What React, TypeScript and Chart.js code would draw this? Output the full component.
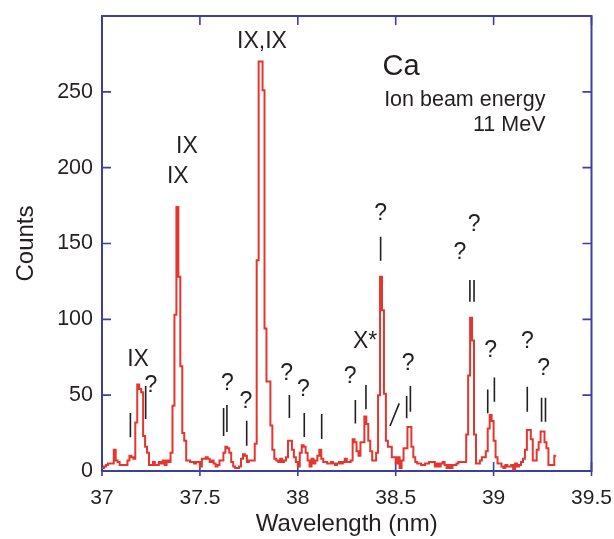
import { useEffect, useRef } from 'react';
import { Chart, registerables } from 'chart.js';

Chart.register(...registerables);

// Spectrum: histogram bins of 0.01 nm starting at 37.00 nm
const START_NM = 37.0;
const BIN_NM = 0.01;
const counts = [
  2, 3, 4, 5, 5, 5, 14, 7, 6, 4,
  4, 4, 4, 7, 10, 9, 8, 32, 57, 54,
  52, 23, 16, 12, 4, 4, 6, 4, 4, 6,
  5, 7, 4, 7, 6, 12, 43, 103, 174, 128,
  69, 25, 20, 7, 7, 6, 6, 5, 6, 6,
  3, 8, 8, 9, 8, 6, 7, 5, 3, 4,
  7, 7, 12, 16, 15, 12, 6, 3, 2, 2,
  3, 8, 11, 10, 6, 7, 7, 7, 18, 139,
  270, 270, 251, 94, 59, 59, 30, 14, 8, 7,
  6, 8, 6, 7, 9, 20, 20, 14, 9, 6,
  3, 12, 17, 16, 12, 7, 3, 8, 5, 7,
  10, 14, 8, 6, 6, 5, 5, 6, 5, 4,
  5, 6, 5, 6, 8, 6, 6, 7, 21, 19,
  13, 10, 19, 19, 36, 31, 20, 13, 7, 7,
  12, 50, 128, 106, 51, 20, 16, 16, 9, 9,
  5, 9, 2, 7, 15, 15, 29, 29, 16, 9,
  6, 5, 5, 4, 4, 5, 5, 6, 6, 6,
  3, 5, 3, 5, 6, 4, 2, 4, 2, 4,
  4, 5, 6, 6, 6, 6, 24, 63, 101, 86,
  24, 5, 5, 7, 9, 9, 13, 28, 37, 33,
  20, 9, 5, 5, 3, 2, 4, 3, 3, 4,
  1, 5, 3, 4, 6, 8, 14, 27, 27, 21,
  7, 7, 14, 19, 26, 26, 19, 15, 4, 4,
  4, 10,
];

const xTicks = [37, 37.5, 38, 38.5, 39, 39.5];
const yTicks = [0, 50, 100, 150, 200, 250];

// Line identification labels: [text, wavelength, counts]
const lineLabels: [string, number, number][] = [
  ['IX,IX', 37.817, 282.9],
  ['IX', 37.434, 213.7],
  ['IX', 37.387, 193.9],
  ['IX', 37.184, 73.3],
  ['?', 37.25, 56],
  ['?', 37.64, 57.8],
  ['?', 37.735, 45.7],
  ['?', 37.943, 63.9],
  ['?', 38.028, 53.4],
  ['?', 38.267, 62.1],
  ['X*', 38.344, 85.2],
  ['?', 38.423, 169.8],
  ['?', 38.564, 71],
  ['?', 38.828, 144.1],
  ['?', 38.901, 162.1],
  ['?', 38.985, 79.3],
  ['?', 39.172, 85.2],
  ['?', 39.256, 67.7],
];

// Marker strokes: [x1, y1, x2, y2] in data units
const markers: [number, number, number, number][] = [
  [37.145, 22.2, 37.145, 38.2],
  [37.223, 34.3, 37.223, 56.0],
  [37.621, 23.1, 37.621, 41.5],
  [37.638, 25.7, 37.638, 43.5],
  [37.739, 16.7, 37.739, 33.1],
  [37.957, 34.9, 37.957, 50.1],
  [38.033, 22.4, 38.033, 38.2],
  [38.122, 21.1, 38.122, 37.6],
  [38.294, 31.4, 38.294, 46.8],
  [38.348, 40.7, 38.348, 56.7],
  [38.423, 138.6, 38.423, 154.4],
  [38.471, 29.7, 38.518, 44.6],
  [38.556, 34.7, 38.556, 49.4],
  [38.575, 39.1, 38.575, 56.0],
  [38.879, 111.6, 38.879, 125.9],
  [38.9, 111.6, 38.9, 125.9],
  [38.97, 38.0, 38.97, 53.8],
  [39.004, 45.7, 39.004, 61.7],
  [39.172, 39.1, 39.172, 55.6],
  [39.245, 32.5, 39.245, 48.3],
  [39.265, 32.5, 39.265, 48.3],
];

const elementLabel = 'Ca';
const elementPos: [number, number] = [38.527, 266.4];
const beamLines = ['Ion beam energy', '11 MeV'];
const beamPos: [number, number][] = [
  [39.265, 244.5],
  [39.265, 228.0],
];

const FONT = '"Liberation Sans", Arial, Helvetica, sans-serif';
const AXIS_COLOR = '#3b3fa0';
const LINE_COLOR = '#e3362e';
const TEXT_COLOR = '#231f20';

const framePlugin = {
  id: 'frameTicks',
  beforeDatasetsDraw(chart: any) {
    const { ctx, chartArea, scales } = chart;
    const { left, right, top, bottom } = chartArea;
    const xs = scales.x;
    const ys = scales.y;
    ctx.save();
    ctx.strokeStyle = AXIS_COLOR;
    ctx.lineWidth = 2;
    ctx.strokeRect(left, top, right - left, bottom - top);
    ctx.lineWidth = 1.6;
    ctx.beginPath();
    xTicks.forEach((v) => {
      const px = xs.getPixelForValue(v);
      ctx.moveTo(px, bottom + 5);
      ctx.lineTo(px, bottom - 9);
      ctx.moveTo(px, top);
      ctx.lineTo(px, top + 9);
    });
    yTicks.forEach((v) => {
      const py = ys.getPixelForValue(v);
      ctx.moveTo(left, py);
      ctx.lineTo(left + 9, py);
      ctx.moveTo(right - 9, py);
      ctx.lineTo(right, py);
    });
    ctx.stroke();
    ctx.restore();
  },
  afterDatasetsDraw(chart: any) {
    const { ctx, scales } = chart;
    const xs = scales.x;
    const ys = scales.y;
    ctx.save();
    ctx.fillStyle = TEXT_COLOR;
    ctx.textBaseline = 'middle';
    ctx.textAlign = 'center';
    ctx.font = `23px ${FONT}`;
    lineLabels.forEach(([t, x, y]) => {
      ctx.fillText(t, xs.getPixelForValue(x), ys.getPixelForValue(y));
    });
    ctx.strokeStyle = TEXT_COLOR;
    ctx.lineWidth = 1.6;
    ctx.beginPath();
    markers.forEach(([x1, y1, x2, y2]) => {
      ctx.moveTo(xs.getPixelForValue(x1), ys.getPixelForValue(y1));
      ctx.lineTo(xs.getPixelForValue(x2), ys.getPixelForValue(y2));
    });
    ctx.stroke();
    ctx.font = `29px ${FONT}`;
    ctx.fillText(elementLabel, xs.getPixelForValue(elementPos[0]), ys.getPixelForValue(elementPos[1]));
    ctx.font = `21.5px ${FONT}`;
    ctx.textAlign = 'right';
    beamLines.forEach((t, i) => {
      const [x, y] = beamPos[i];
      ctx.fillText(t, xs.getPixelForValue(x), ys.getPixelForValue(y));
    });
    ctx.restore();
  },
};

export default function App() {
  const canvasRef = useRef<HTMLCanvasElement | null>(null);

  useEffect(() => {
    const canvas = canvasRef.current;
    if (!canvas) return;
    const points = counts.map((c, i) => ({ x: +(START_NM + i * BIN_NM).toFixed(2), y: c }));
    points.push({ x: +(START_NM + counts.length * BIN_NM).toFixed(2), y: counts[counts.length - 1] });

    const chart = new Chart(canvas, {
      type: 'line',
      data: {
        datasets: [
          {
            data: points,
            borderColor: LINE_COLOR,
            borderWidth: 2,
            stepped: 'before',
            pointRadius: 0,
            fill: false,
          },
        ],
      },
      options: {
        animation: false,
        responsive: false,
        devicePixelRatio: 1,
        layout: { padding: { left: 0, right: 22.5, top: 16, bottom: 0 } },
        plugins: {
          legend: { display: false },
          tooltip: { enabled: false },
        },
        scales: {
          x: {
            type: 'linear',
            min: 37,
            max: 39.5,
            grid: { display: false, drawTicks: false },
            border: { display: false },
            ticks: {
              stepSize: 0.5,
              padding: 15,
              color: TEXT_COLOR,
              font: { family: FONT, size: 21 },
              callback: (v: any) => String(+(+v).toFixed(1)),
            },
            title: {
              display: true,
              text: 'Wavelength (nm)',
              color: TEXT_COLOR,
              font: { family: FONT, size: 24 },
              padding: 0,
            },
            afterFit: (s: any) => {
              s.height = 68;
              s.paddingLeft = 0;
              s.paddingRight = 0;
            },
          },
          y: {
            type: 'linear',
            min: 0,
            max: 300,
            grid: { display: false, drawTicks: false },
            border: { display: false },
            ticks: {
              stepSize: 50,
              padding: 9,
              color: TEXT_COLOR,
              font: { family: FONT, size: 21.5 },
              callback: (v: any) => (yTicks.includes(+v) ? String(v) : ''),
            },
            title: {
              display: true,
              text: 'Counts',
              color: TEXT_COLOR,
              font: { family: FONT, size: 24 },
              padding: { top: 12, bottom: 0 },
            },
            afterFit: (s: any) => {
              s.width = 102;
              s.paddingTop = 0;
              s.paddingBottom = 0;
            },
          },
        },
      },
      plugins: [framePlugin],
    });

    return () => chart.destroy();
  }, []);

  return (
    <div style={{ position: 'fixed', left: 0, top: 0, width: 614, height: 539, background: '#fff' }}>
      <canvas ref={canvasRef} width={614} height={539} style={{ display: 'block' }} />
    </div>
  );
}
